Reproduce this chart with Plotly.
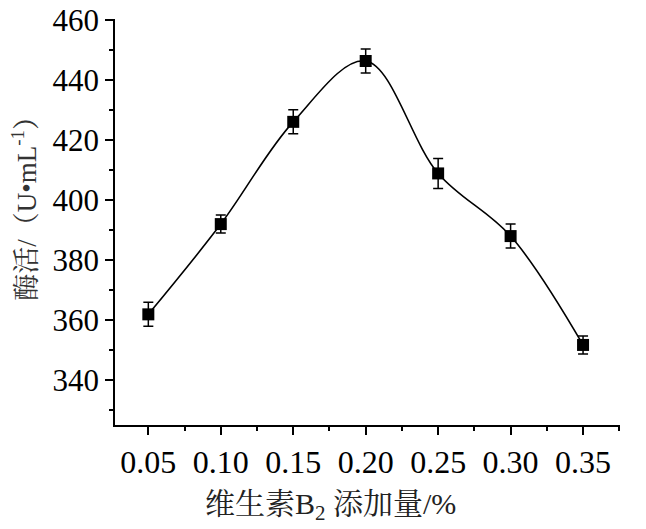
import plotly.graph_objects as go

dose = [0.05, 0.10, 0.15, 0.20, 0.25, 0.30, 0.35]
activity = [361.9, 392.0, 426.1, 446.4, 408.9, 388.0, 351.7]
err = [4.0, 3.0, 4.0, 4.0, 5.0, 4.0, 3.0]
x_ticks = [0.05, 0.10, 0.15, 0.20, 0.25, 0.30, 0.35]
x_tick_text = ["0.05", "0.10", "0.15", "0.20", "0.25", "0.30", "0.35"]
y_ticks = [340, 360, 380, 400, 420, 440, 460]
x_title = "维生素B<sub>2</sub> 添加量/%"
y_title = "酶活/（U•mL<sup>-1</sup>）"

font_serif = "Liberation Serif, Times New Roman, serif"
cjk_font = "Liberation Serif, Noto Serif CJK SC, Noto Sans CJK SC, serif"

fig = go.Figure()
fig.add_trace(go.Scatter(
    x=dose, y=activity,
    mode="lines",
    line=dict(color="black", width=1.6, shape="spline", smoothing=1.0),
    showlegend=False, hoverinfo="skip",
))
fig.add_trace(go.Scatter(
    x=dose, y=activity,
    mode="markers",
    marker=dict(symbol="square", size=12, color="black"),
    error_y=dict(type="data", array=err, visible=True, color="black", thickness=1.5, width=5),
    showlegend=False,
))

# page has an 8px body margin, so the figure is sized to fit inside the window
fig.update_layout(
    width=638, height=521,
    margin=dict(l=107, r=26, t=11, b=104),
    plot_bgcolor="white", paper_bgcolor="white",
    font=dict(family=font_serif, color="black", size=32),
    xaxis=dict(
        range=[0.027, 0.3755], automargin=False,
        tickmode="array", tickvals=x_ticks, ticktext=x_tick_text,
        ticks="outside", ticklen=8, tickwidth=1.5, tickcolor="black",
        showline=True, linecolor="black", linewidth=1.5,
        showgrid=False, zeroline=False, ticklabeloverflow="allow",
        tickfont=dict(size=32, family=font_serif),
        minor=dict(tickvals=[0.075, 0.125, 0.175, 0.225, 0.275, 0.325, 0.375], ticks="outside", ticklen=4, tickwidth=1.5, tickcolor="black"),
    ),
    yaxis=dict(
        range=[325, 460.4], automargin=False,
        tickmode="array", tickvals=y_ticks,
        ticks="outside", ticklen=8, tickwidth=1.5, tickcolor="black",
        showline=True, linecolor="black", linewidth=1.5,
        showgrid=False, zeroline=False, ticklabeloverflow="allow",
        tickfont=dict(size=31, family=font_serif),
        minor=dict(tickvals=[330, 350, 370, 390, 410, 430, 450], ticks="outside", ticklen=4, tickwidth=1.5, tickcolor="black"),
    ),
    annotations=[
        dict(text=x_title, xref="paper", yref="paper", x=0.426, y=-0.2,
             xanchor="center", yanchor="middle", showarrow=False,
             font=dict(size=30, family=cjk_font, color="#222")),
        dict(text=y_title, xref="paper", yref="paper", x=-0.18, y=0.55,
             xanchor="center", yanchor="middle", textangle=-90, showarrow=False,
             font=dict(size=27, family=cjk_font, color="#333")),
    ],
)

fig.write_html("out.html")
